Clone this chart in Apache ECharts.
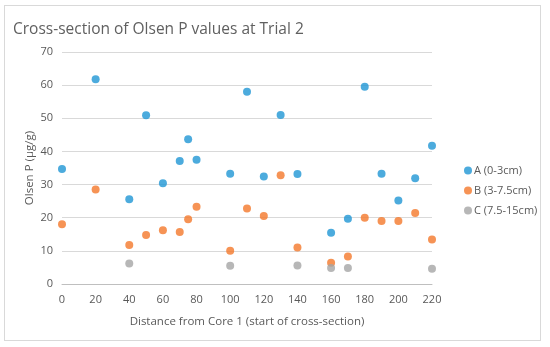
<!DOCTYPE html>
<html>
<head>
<meta charset="utf-8">
<script src="https://cdn.jsdelivr.net/npm/echarts@6/dist/echarts.min.js"></script>
<style>
html,body{margin:0;padding:0;background:#fff;}
#frame{position:absolute;left:4px;top:5px;width:537px;height:336px;border:1px solid #d9d9d9;box-sizing:border-box;}
#chart{position:absolute;left:0;top:0;width:550px;height:347px;}
</style>
</head>
<body>
<div id="frame"></div>
<div id="chart"></div>
<script>
var title = 'Cross-section of Olsen P values at Trial 2';
var xAxisName = 'Distance from Core 1 (start of cross-section)';
var yAxisName = 'Olsen P (µg/g)';
var seriesNames = ['A (0-3cm)', 'B (3-7.5cm)', 'C (7.5-15cm)'];
var xA = [0, 20, 40, 50, 60, 70, 75, 80, 100, 110, 120, 130, 140, 160, 170, 180, 190, 200, 210, 220];
var yA = [34.7, 61.8, 25.6, 50.9, 30.4, 37.1, 43.7, 37.5, 33.3, 58.0, 32.4, 51.0, 33.2, 15.5, 19.7, 59.5, 33.3, 25.2, 31.9, 41.7];
var xB = [0, 20, 40, 50, 60, 70, 75, 80, 100, 110, 120, 130, 140, 160, 170, 180, 190, 200, 210, 220];
var yB = [18.0, 28.5, 11.8, 14.8, 16.2, 15.7, 19.5, 23.3, 10.0, 22.8, 20.5, 32.8, 11.0, 6.4, 8.3, 20.0, 19.0, 19.0, 21.4, 13.4];
var xC = [40, 100, 140, 160, 170, 220];
var yC = [6.2, 5.5, 5.6, 4.8, 4.8, 4.6];
var colors = ['#1f96d4', '#f4782a', '#a5a5a5'];

function pairs(xs, ys) { return xs.map(function (x, i) { return [x, ys[i]]; }); }

var chart = echarts.init(document.getElementById('chart'), null, {renderer: 'canvas'});
var font = 'Open Sans, sans-serif';
chart.setOption({
  animation: false,
  color: colors,
  textStyle: {fontFamily: font},
  title: {
    text: title, left: 8, top: 17,
    textStyle: {fontFamily: font, fontSize: 15.5, fontWeight: 'normal', color: '#606060'}
  },
  grid: {left: 62, right: 118, top: 52, bottom: 63},
  legend: {
    orient: 'vertical', left: 459, top: 160, itemGap: 9,
    icon: 'circle', itemWidth: 8, itemHeight: 8,
    textStyle: {fontFamily: font, fontSize: 11, color: '#595959', padding: [0, 0, 0, -3]},
    data: seriesNames
  },
  xAxis: {
    type: 'value', min: 0, max: 220, interval: 20,
    name: xAxisName, nameLocation: 'middle', nameGap: 32,
    nameTextStyle: {fontFamily: font, fontSize: 11.5, color: '#595959'},
    axisLine: {show: true, lineStyle: {color: '#bfbfbf'}},
    axisTick: {show: false},
    splitLine: {show: false},
    axisLabel: {color: '#595959', fontSize: 11, margin: 10, fontFamily: font}
  },
  yAxis: {
    type: 'value', min: 0, max: 70, interval: 10,
    name: yAxisName, nameLocation: 'middle', nameGap: 26, nameRotate: 90,
    nameMoveOverlap: false,
    nameTextStyle: {fontFamily: font, fontSize: 11.5, color: '#595959'},
    axisLine: {show: false},
    axisTick: {show: false},
    splitLine: {lineStyle: {color: '#d9d9d9'}},
    axisLabel: {color: '#595959', fontSize: 11, margin: 9, fontFamily: font}
  },
  series: [
    {name: seriesNames[0], type: 'scatter', symbolSize: 8, data: pairs(xA, yA)},
    {name: seriesNames[1], type: 'scatter', symbolSize: 8, data: pairs(xB, yB)},
    {name: seriesNames[2], type: 'scatter', symbolSize: 8, data: pairs(xC, yC)}
  ]
});
</script>
</body>
</html>
